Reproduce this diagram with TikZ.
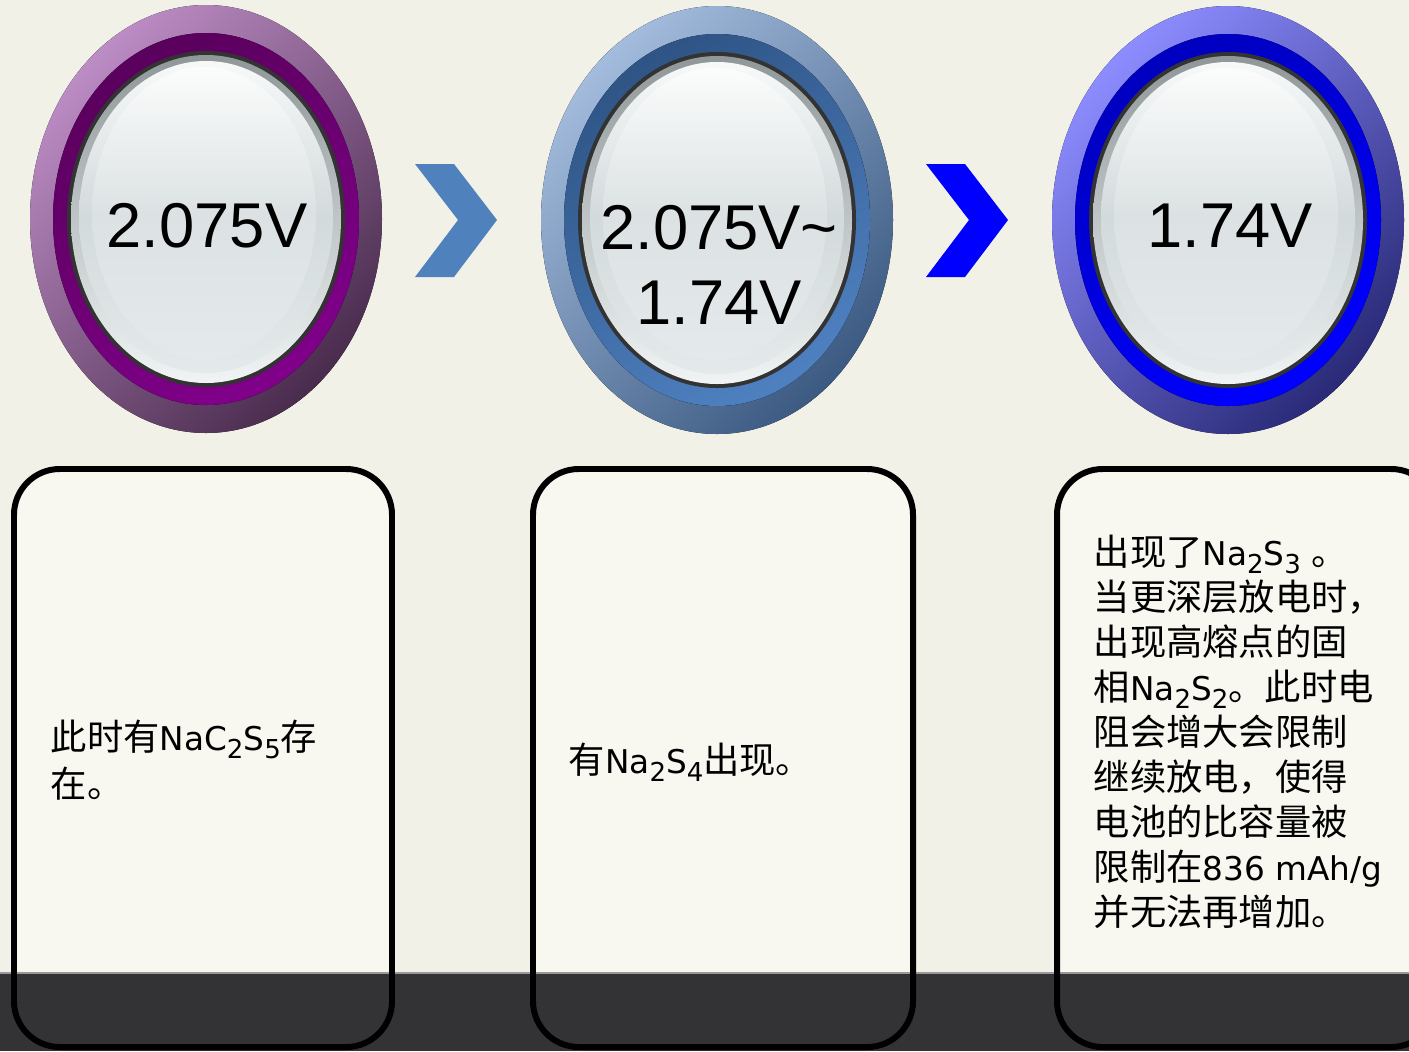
\documentclass[tikz,border=0pt]{standalone}
\usepackage{fontspec}
\usetikzlibrary{calc}
\setmainfont{DejaVu Sans}
\newfontfamily\cjk[Scale=1.11]{Noto Sans CJK SC}
\newfontfamily\arial{Liberation Sans}
\newcommand{\zh}[1]{{\cjk #1}}
\newcommand{\sub}[1]{\raisebox{-0.45ex}{\fontsize{7.4}{7.4}\selectfont #1}}
\definecolor{paper}{HTML}{F2F1E8}
\definecolor{cardfill}{HTML}{F8F8F0}
\definecolor{floor}{HTML}{333235}
\definecolor{chevblue}{HTML}{4F81BD}
\definecolor{plumA}{HTML}{BC8CC4}
\definecolor{plumB}{HTML}{4A2C4E}
\definecolor{plumC}{HTML}{5A005D}
\definecolor{plumD}{HTML}{80008A}
\definecolor{steelA}{HTML}{A3BCDD}
\definecolor{steelB}{HTML}{3C5A82}
\definecolor{steelC}{HTML}{2F5586}
\definecolor{steelD}{HTML}{4E80C0}
\definecolor{royalA}{HTML}{8C8CFF}
\definecolor{royalB}{HTML}{2A2A78}
\definecolor{royalC}{HTML}{0000C0}
\definecolor{royalD}{HTML}{0000FF}
\definecolor{glassTop}{HTML}{F7F9F9}
\definecolor{glassMid}{HTML}{D3DADC}
\definecolor{glassBot}{HTML}{E4EAEB}
\definecolor{lightTop}{HTML}{FBFCFC}
\definecolor{lightMid}{HTML}{DCE2E3}
\definecolor{rimTop}{HTML}{8F9799}
\definecolor{rimBot}{HTML}{F0F4F4}

\begin{document}
\begin{tikzpicture}[x=0.01cm, y=-0.01cm,
    volt/.style={font=\arial\fontsize{18}{21.4}\selectfont, align=center, inner sep=0},
    note/.style={font=\fontsize{9.3}{12.8}\selectfont, align=left, inner sep=0, anchor=north west},
    card/.style={line width=1.7pt, rounded corners=13pt},
    chev/.style={fill=#1, draw=none}]
    % lens: #1 centre, #2/#3 outer ring, #4/#5 inner ring
    \def\disc#1#2#3#4#5{
      \fill[top color=#2, bottom color=#3, shading angle=45] (#1) ellipse [x radius=176, y radius=214];
      \fill[top color=#4, bottom color=#5, shading angle=30] (#1) ellipse [x radius=153, y radius=186];
      \fill[color=black!80] (#1) ellipse [x radius=139, y radius=168];
      \shade[top color=rimTop, bottom color=rimBot] (#1) ellipse [x radius=135, y radius=164];
      \shade[top color=glassTop, bottom color=glassBot, middle color=glassMid] ($(#1)+(0,-2)$) ellipse [x radius=127, y radius=156];
      \shade[top color=lightTop, bottom color=glassBot, middle color=lightMid] ($(#1)+(-2,-6)$) ellipse [x radius=112, y radius=146];
    }
    \useasboundingbox (0,0) rectangle (1409,1051);
    \clip (0,0) rectangle (1409,1051);
    \fill[paper] (0,0) rectangle (1409,1051);

    % cards
    \fill[cardfill, card] (14,469) rectangle (392,1047);
    \fill[cardfill, card] (533,469) rectangle (913,1047);
    \fill[cardfill, card] (1057,469) rectangle (1437,1047);
    \fill[floor] (0,973) rectangle (1409,1051);
    \draw[gray!80, line width=0.6pt] (0,973) -- (1409,973);
    \draw[card] (14,469) rectangle (392,1047);
    \draw[card] (533,469) rectangle (913,1047);
    \draw[card] (1057,469) rectangle (1437,1047);

    % lenses
    \coordinate (c1) at (206,219);
    \coordinate (c2) at (717,220);
    \coordinate (c3) at (1228,220);
    \disc{c1}{plumA}{plumB}{plumC}{plumD}
    \disc{c2}{steelA}{steelB}{steelC}{steelD}
    \disc{c3}{royalA}{royalB}{royalC}{royalD}

    % chevrons
    \fill[chev=chevblue] (415,164) -- (454,164) -- (497,220) -- (454,277) -- (415,277) -- (458,220) -- cycle;
    \fill[chev=blue] (926,164) -- (965,164) -- (1008,220) -- (965,277) -- (926,277) -- (969,220) -- cycle;

    \node[volt] (v1) at (207,226) {2.075V};
    \node[volt] (v2) at (719,265) {2.075V\textasciitilde\\1.74V};
    \node[volt] (v3) at (1230,226) {1.74V};

    \node[note, font=\fontsize{9.3}{13.4}\selectfont] (t1) at (50,719)
      {\zh{此时有}NaC\sub{2}S\sub{5}\zh{存}\\\zh{在。}};
    \node[note, anchor=west] (t2) at (568,762)
      {\zh{有}Na\sub{2}S\sub{4}\zh{出现。}};
    \node[note] (t3) at (1093,534)
      {\zh{出现了}Na\sub{2}S\sub{3} \zh{。}\\
       \zh{当更深层放电时，}\\
       \zh{出现高熔点的固}\\
       \zh{相}Na\sub{2}S\sub{2}\zh{。此时电}\\
       \zh{阻会增大会限制}\\
       \zh{继续放电，使得}\\
       \zh{电池的比容量被}\\
       \zh{限制在}836 mAh/g\\
       \zh{并无法再增加。}};
\end{tikzpicture}
\end{document}
